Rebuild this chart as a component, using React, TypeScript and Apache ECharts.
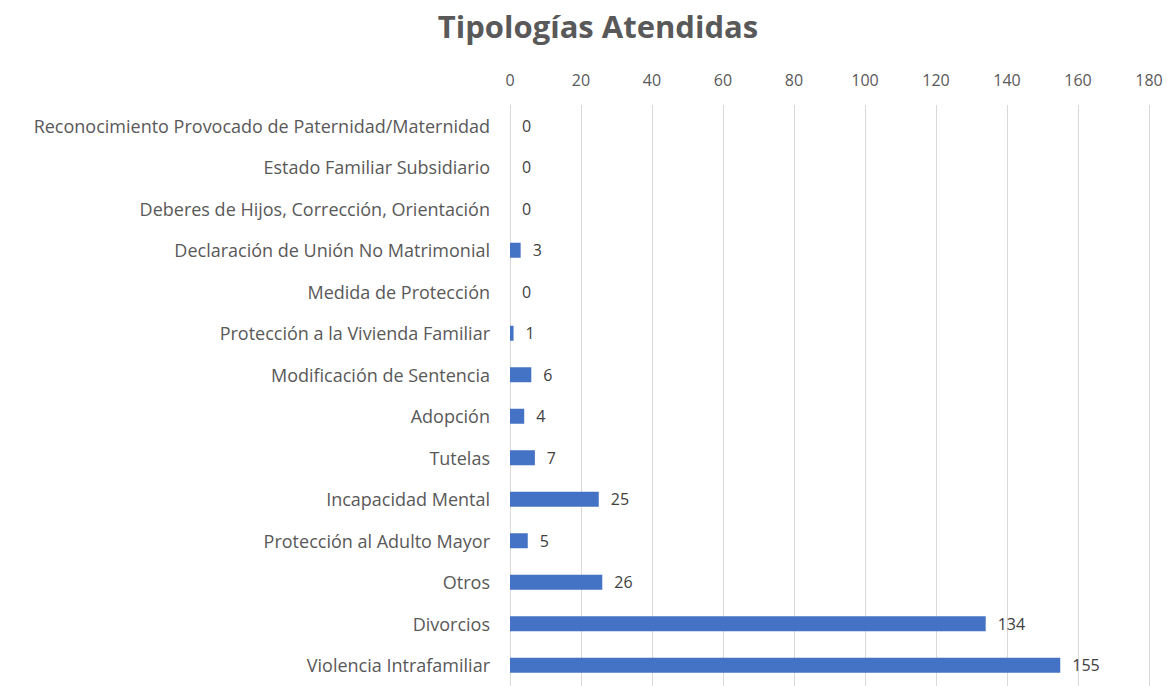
import React, { useEffect, useRef } from "react";
import * as echarts from "echarts";

const categories = [
  "Reconocimiento Provocado de Paternidad/Maternidad",
  "Estado Familiar Subsidiario",
  "Deberes de Hijos, Corrección, Orientación",
  "Declaración de Unión No Matrimonial",
  "Medida de Protección",
  "Protección a la Vivienda Familiar",
  "Modificación de Sentencia",
  "Adopción",
  "Tutelas",
  "Incapacidad Mental",
  "Protección al Adulto Mayor",
  "Otros",
  "Divorcios",
  "Violencia Intrafamiliar",
];
const values = [0, 0, 0, 3, 0, 1, 6, 4, 7, 25, 5, 26, 134, 155];
const title = "Tipologías Atendidas";

export default function App() {
  const ref = useRef<HTMLDivElement>(null);
  useEffect(() => {
    if (!ref.current) return;
    const chart = echarts.init(ref.current, null, { renderer: "svg" });
    const font = "'Open Sans', Lato, sans-serif";
    chart.setOption({
      animation: false,
      backgroundColor: "#ffffff",
      title: {
        text: title,
        left: 593,
        textAlign: "center",
        top: 5,
        textStyle: { fontFamily: font, fontSize: 31, fontWeight: "bold", color: "#595959" },
      },
      grid: { left: 510, right: 21, top: 105, height: 584, containLabel: false },
      xAxis: {
        type: "value",
        position: "top",
        min: 0,
        max: 180,
        interval: 20,
        axisLine: { show: false },
        axisTick: { show: false },
        splitLine: { lineStyle: { color: "#d9d9d9", width: 1 } },
        axisLabel: { color: "#595959", fontFamily: font, fontSize: 16, margin: 17 },
      },
      yAxis: {
        type: "category",
        data: categories,
        inverse: true,
        axisLine: { lineStyle: { color: "#d9d9d9" } },
        axisTick: { show: false },
        axisLabel: { color: "#595959", fontFamily: font, fontSize: 18, margin: 20 },
      },
      series: [
        {
          type: "bar",
          data: values,
          barWidth: 15,
          itemStyle: { color: "#4472c4" },
          label: {
            show: true,
            position: "right",
            distance: 12,
            color: "#404040",
            fontFamily: font,
            fontSize: 16,
          },
        },
      ],
    });
    return () => chart.dispose();
  }, []);
  return (
    <div
      ref={ref}
      style={{ position: "absolute", left: 0, top: 0, width: 1170, height: 686 }}
    />
  );
}
